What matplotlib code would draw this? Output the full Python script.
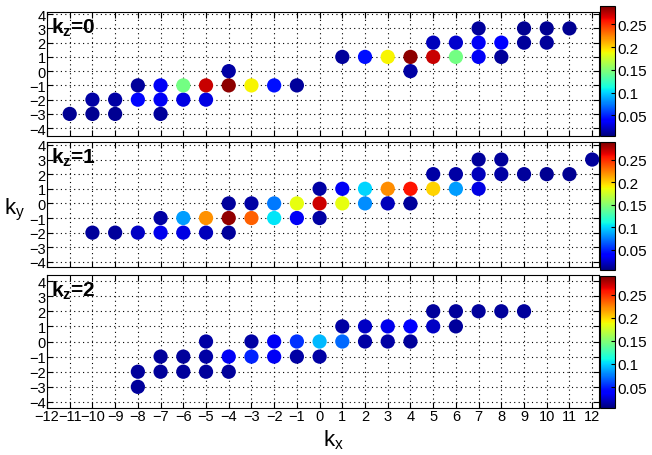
"""Scatter maps of weights over (kx, ky) for kz = 0, 1, 2."""

import matplotlib

matplotlib.use("Agg")
import matplotlib.pyplot as plt
from matplotlib.colors import Normalize

plt.rcParams["font.family"] = ["Liberation Sans", "DejaVu Sans"]
plt.rcParams["mathtext.fontset"] = "custom"
plt.rcParams["mathtext.rm"] = "Liberation Sans"
plt.rcParams["mathtext.bf"] = "Liberation Sans:bold"

# kz = 0
kx0 = [-11, -10, -9, -7,
       -10, -9, -8, -7, -6, -5,
       -8, -7, -6, -5, -4, -3, -2, -1,
       -4, 4,
       1, 2, 3, 4, 5, 6, 7, 8,
       5, 6, 7, 8, 9, 10,
       7, 9, 10, 11]
ky0 = [-3, -3, -3, -3,
       -2, -2, -2, -2, -2, -2,
       -1, -1, -1, -1, -1, -1, -1, -1,
       0, 0,
       1, 1, 1, 1, 1, 1, 1, 1,
       2, 2, 2, 2, 2, 2,
       3, 3, 3, 3]
w0 = [0.01, 0.01, 0.01, 0.012,
      0.015, 0.015, 0.042, 0.035, 0.03, 0.03,
      0.012, 0.035, 0.145, 0.272, 0.286, 0.19, 0.045, 0.012,
      0.015, 0.015,
      0.012, 0.045, 0.19, 0.286, 0.272, 0.145, 0.035, 0.012,
      0.02, 0.025, 0.035, 0.04, 0.012, 0.012,
      0.012, 0.01, 0.01, 0.01]

# kz = 1
kx1 = [-10, -9, -8, -7, -6, -5, -4,
       -7, -6, -5, -4, -3, -2, -1, 0,
       -4, -3, -2, -1, 0, 1, 2, 3, 4,
       0, 1, 2, 3, 4, 5, 6, 7,
       5, 6, 7, 8, 9, 10, 11,
       7, 8, 12]
ky1 = [-2, -2, -2, -2, -2, -2, -2,
       -1, -1, -1, -1, -1, -1, -1, -1,
       0, 0, 0, 0, 0, 0, 0, 0, 0,
       1, 1, 1, 1, 1, 1, 1, 1,
       2, 2, 2, 2, 2, 2, 2,
       3, 3, 3]
w1 = [0.012, 0.012, 0.022, 0.032, 0.03, 0.02, 0.012,
      0.015, 0.085, 0.22, 0.285, 0.235, 0.105, 0.035, 0.015,
      0.012, 0.015, 0.075, 0.185, 0.27, 0.185, 0.08, 0.02, 0.012,
      0.015, 0.035, 0.1, 0.222, 0.258, 0.2, 0.085, 0.03,
      0.015, 0.015, 0.02, 0.015, 0.012, 0.01, 0.01,
      0.012, 0.012, 0.012]

# kz = 2
kx2 = [-8,
       -8, -7, -6, -5, -4,
       -7, -6, -5, -4, -3, -2, -1, 0,
       -5, -3, -2, -1, 0, 1, 2, 3, 4,
       1, 2, 3, 4, 5, 6,
       5, 6, 7, 8, 9]
ky2 = [-3,
       -2, -2, -2, -2, -2,
       -1, -1, -1, -1, -1, -1, -1, -1,
       0, 0, 0, 0, 0, 0, 0, 0, 0,
       1, 1, 1, 1, 1, 1,
       2, 2, 2, 2, 2]
w2 = [0.012,
      0.012, 0.012, 0.012, 0.012, 0.012,
      0.012, 0.012, 0.015, 0.035, 0.05, 0.035, 0.015, 0.015,
      0.015, 0.015, 0.035, 0.055, 0.092, 0.07, 0.015, 0.015, 0.012,
      0.015, 0.022, 0.032, 0.04, 0.022, 0.012,
      0.012, 0.012, 0.012, 0.012, 0.012]

panels = [(0, kx0, ky0, w0), (1, kx1, ky1, w1), (2, kx2, ky2, w2)]
cbar_ticks = [0.05, 0.1, 0.15, 0.2, 0.25]

W, H = 652, 456
# (top, bottom) in pixels for axes and colorbars, plus y-limits per panel
ax_rows = [(13, 137), (143, 268), (276, 409)]
cb_rows = [(7, 137), (143, 271), (277, 409)]
ylims = [(-4.55, 4.15), (-4.35, 4.2), (-4.4, 4.4)]
x0, x1 = 47, 599

fig = plt.figure(figsize=(W / 100, H / 100), dpi=100)
norm = Normalize(vmin=0.005, vmax=0.29)

for i, (kz, kx, ky, w) in enumerate(panels):
    top, bot = ax_rows[i]
    ax = fig.add_axes([x0 / W, 1 - bot / H, (x1 - x0) / W, (bot - top) / H])
    sc = ax.scatter(kx, ky, c=w, cmap="jet", norm=norm, s=105, linewidths=0, zorder=3)
    ax.set_xlim(-12, 12.3)
    ax.set_ylim(*ylims[i])
    ax.set_xticks(range(-12, 13))
    ax.set_yticks(range(-4, 5))
    ax.grid(True, linestyle=(0, (1, 3)), color="k", linewidth=0.8)
    ax.tick_params(direction="in", top=True, right=True, length=4, labelsize=10.5, pad=1)
    if i < 2:
        ax.tick_params(labelbottom=False)
    ax.text(0.008, 0.97, r"$\mathbf{k_z}$" + f"={kz}", transform=ax.transAxes,
            ha="left", va="top", fontsize=15, fontweight="bold")

    ctop, cbot = cb_rows[i]
    cax = fig.add_axes([600 / W, 1 - cbot / H, 15 / W, (cbot - ctop) / H])
    cb = fig.colorbar(sc, cax=cax, ticks=cbar_ticks)
    cb.ax.set_yticklabels(["0.05", "0.1", "0.15", "0.2", "0.25"])
    cb.ax.tick_params(labelsize=11, direction="in", length=3, pad=2)
    cb.outline.set_linewidth(0.8)

fig.text(15 / W, 1 - 210 / H, r"$\mathrm{k_y}$", fontsize=16, ha="center", va="center")
fig.text(333 / W, 1 - 440 / H, r"$\mathrm{k_x}$", fontsize=16, ha="center", va="center")

fig.savefig("out.png", dpi=100)
